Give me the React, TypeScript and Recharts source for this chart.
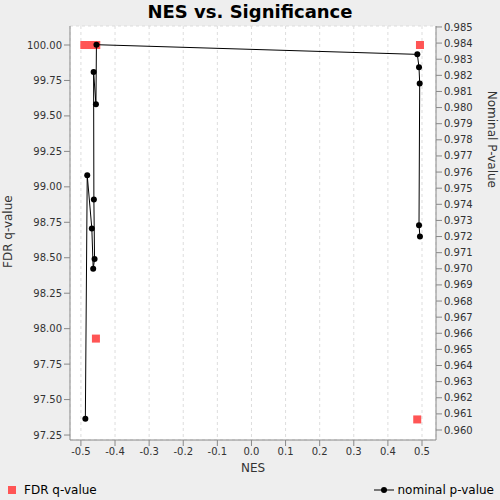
import React from 'react';
import { ComposedChart, Scatter, XAxis, YAxis, CartesianGrid } from 'recharts';

const fdrNes = [-0.49, -0.482, -0.474, -0.467, -0.461, -0.455, -0.456, 0.494, 0.486];
const fdrQ = [100, 100, 100, 100, 100, 100, 97.93, 100, 97.36];

const nomNes = [-0.487, -0.4815, -0.468, -0.464, -0.46, -0.462, -0.4628, -0.456, -0.4545, 0.4863, 0.4912, 0.4932, 0.4912, 0.494];
const nomP = [0.9607, 0.9758, 0.9725, 0.97, 0.9706, 0.9743, 0.9822, 0.9802, 0.9839, 0.9833, 0.9825, 0.9815, 0.9727, 0.972];

const xTicks = [-0.5, -0.4, -0.3, -0.2, -0.1, 0, 0.1, 0.2, 0.3, 0.4, 0.5];
const leftTicks = [97.25, 97.5, 97.75, 98, 98.25, 98.5, 98.75, 99, 99.25, 99.5, 99.75, 100];
const rightTicks = Array.from({ length: 26 }, (_, i) => +(0.96 + i * 0.001).toFixed(3));

const fdrData = fdrNes.map((x, i) => ({ x, y: fdrQ[i] }));
const nomData = nomNes.map((x, i) => ({ x, y: nomP[i] }));

const font = 'DejaVu Sans, sans-serif';
const tick = { fontSize: 10, fill: '#333', fontFamily: font };

const Square = (p: any) => <rect x={p.cx - 4} y={p.cy - 4} width={8} height={8} fill="#ff5555" />;
const Dot = (p: any) => <circle cx={p.cx} cy={p.cy} r={3} fill="#000" />;

export default function App() {
  return (
    <div style={{ position: 'absolute', left: 0, top: 0, width: 500, height: 500, background: '#eeeeee', fontFamily: font }}>
      <div style={{ position: 'absolute', top: 1, width: 500, textAlign: 'center', fontSize: 18, fontWeight: 'bold' }}>
        NES vs. Significance
      </div>
      <div style={{ position: 'absolute', top: 0, left: 0 }}>
        <ComposedChart width={500} height={480} margin={{ top: 26, right: 4, bottom: 0, left: 0 }}>
          <CartesianGrid stroke="#ddd" strokeDasharray="3 3" fill="#fff" />
          <XAxis type="number" dataKey="x" domain={[-0.532, 0.541]} ticks={xTicks} tick={tick}
            tickFormatter={(v: number) => v.toFixed(1)} stroke="#888" height={40}
            label={{ value: 'NES', position: 'insideBottom', offset: 8, fontSize: 12, fill: '#333' }} />
          <YAxis yAxisId="l" type="number" dataKey="y" domain={[97.215, 100.134]} ticks={leftTicks} tick={tick}
            tickFormatter={(v: number) => v.toFixed(2)} stroke="#888" width={70}
            label={{ value: 'FDR q-value', angle: -90, position: 'insideLeft', offset: 8, fontSize: 12, fill: '#333', dy: 35 }} />
          <YAxis yAxisId="r" orientation="right" type="number" dataKey="y" domain={[0.95938, 0.98506]} ticks={rightTicks}
            tick={tick} tickFormatter={(v: number) => v.toFixed(3)} stroke="#888" width={60} interval={0}
            label={{ value: 'Nominal P-value', angle: 90, position: 'insideRight', offset: 4, fontSize: 12, fill: '#333', dy: -45 }} />
          <Scatter yAxisId="l" data={fdrData} shape={Square} isAnimationActive={false} />
          <Scatter yAxisId="r" data={nomData} shape={Dot} line={{ stroke: '#000', strokeWidth: 1 }} isAnimationActive={false} />
        </ComposedChart>
      </div>
      <div style={{ position: 'absolute', top: 483, left: 8, fontSize: 12, display: 'flex', alignItems: 'center' }}>
        <span style={{ width: 8, height: 8, background: '#ff5555', display: 'inline-block', marginRight: 8 }} />FDR q-value
      </div>
      <div style={{ position: 'absolute', top: 483, right: 6, fontSize: 12, display: 'flex', alignItems: 'center' }}>
        <svg width={20} height={10} style={{ marginRight: 4 }}>
          <line x1={0} y1={5} x2={20} y2={5} stroke="#000" />
          <circle cx={10} cy={5} r={3} fill="#000" />
        </svg>
        nominal p-value
      </div>
    </div>
  );
}
